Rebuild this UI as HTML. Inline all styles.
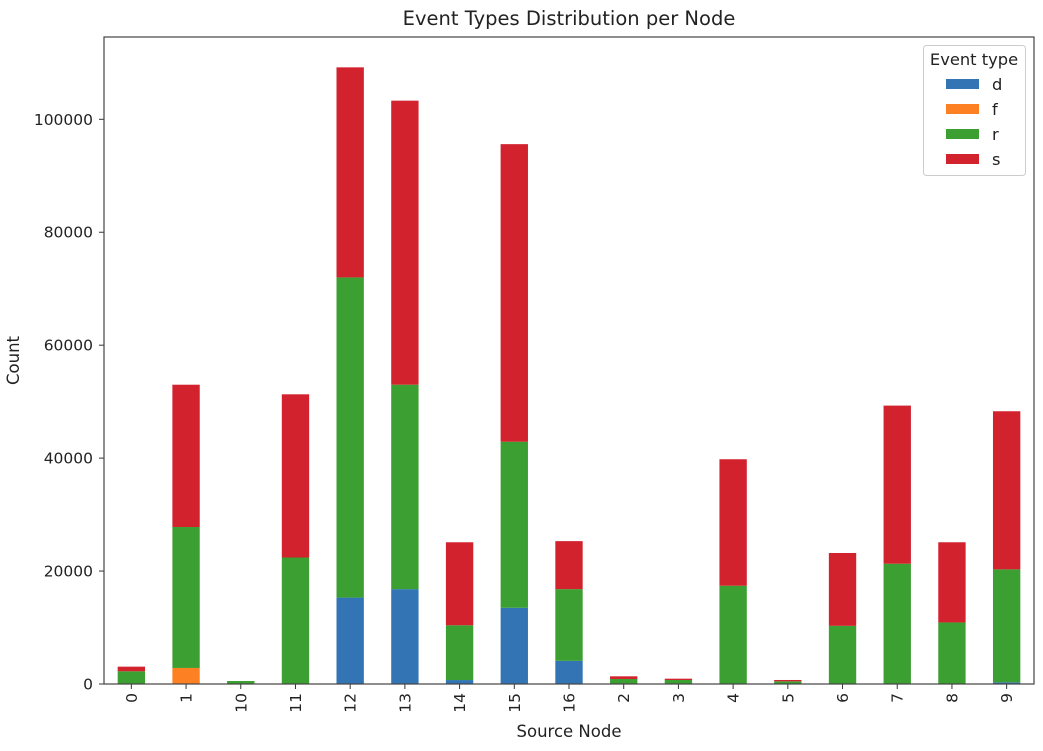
<!DOCTYPE html>
<html><head><meta charset="utf-8"><style>
body{margin:0;background:#fff;font-family:"DejaVu Sans","Liberation Sans",sans-serif;}
svg text{font-family:"DejaVu Sans","Liberation Sans",sans-serif;fill:#222;}
</style></head><body>
<svg id="chart" width="1043" height="747" xmlns="http://www.w3.org/2000/svg"></svg>
<script>
const categories=["0","1","10","11","12","13","14","15","16","2","3","4","5","6","7","8","9"];
const seriesNames=["d","f","r","s"];
const colors=["#3274b4","#fd8123","#3b9f32","#d1222e"];
const dVals=[0,0,0,0,15300,16800,700,13500,4100,0,0,0,0,0,0,0,300];
const fVals=[0,2840,0,0,0,0,0,0,0,0,0,0,0,0,0,0,0];
const rVals=[2250,24960,530,22400,56700,36200,9700,29400,12700,890,710,17400,480,10300,21300,10900,20000];
const sVals=[820,25200,0,28900,37200,50300,14700,52700,8500,470,230,22400,230,12900,28000,14200,28000];
const yTicks=[0,20000,40000,60000,80000,100000];
const series=[dVals,fVals,rVals,sVals];
const L=104,R=1034,T=37,B=684;
const yPerUnit=(684-119.3)/100000;
const y=v=>B-v*yPerUnit;
const step=(R-L)/categories.length;
const x=i=>L+step*(i+0.5);
const bw=step*0.5;
const NS="http://www.w3.org/2000/svg";
const svg=document.getElementById('chart');
function mk(t,a,txt){const e=document.createElementNS(NS,t);for(const k in a)e.setAttribute(k,a[k]);if(txt!==undefined)e.textContent=txt;svg.appendChild(e);return e;}
categories.forEach((c,i)=>{let base=0;
 series.forEach((s,j)=>{const v=s[i];if(v>0){
  const r=mk('rect',{x:x(i)-bw/2,y:y(base+v),width:bw,height:y(base)-y(base+v),fill:colors[j]});
  
  }
  base+=v;});
 const tk=mk('line',{x1:x(i),x2:x(i),y1:B,y2:B+5,stroke:'#333'});
 
 
 const tl=mk('text',{x:0,y:0,'font-size':15.5,'text-anchor':'end',transform:`translate(${x(i)+5.5},${B+9}) rotate(-90)`},c);
 
 
});
yTicks.forEach(v=>{
 const tk=mk('line',{x1:L-5,x2:L,y1:y(v),y2:y(v),stroke:'#333'});
 
 
 const tl=mk('text',{x:L-11,y:y(v)+5.5,'font-size':15.5,'text-anchor':'end'},String(v));
 
 
});
const fr=mk('rect',{x:L,y:T,width:R-L,height:B-T,fill:'none',stroke:'#444','stroke-width':1.2});


const ti=mk('text',{x:(L+R)/2,y:25,'font-size':19.5,'text-anchor':'middle'},'Event Types Distribution per Node');


const xt=mk('text',{x:(L+R)/2,y:737,'font-size':16.5,'text-anchor':'middle'},'Source Node');


const yt=mk('text',{x:0,y:0,'font-size':16.5,'text-anchor':'middle',transform:`translate(19,${(T+B)/2}) rotate(-90)`},'Count');


const lg=mk('rect',{x:923.5,y:45.5,width:102,height:130,rx:3,fill:'#fff',stroke:'#ccc'});


const lt=mk('text',{x:974,y:65,'font-size':16.3,'text-anchor':'middle'},'Event type');


seriesNames.forEach((n,j)=>{const yy=84+j*25;
 const sw=mk('rect',{x:946,y:yy-5,width:33,height:10,fill:colors[j]});
 
 
 const t=mk('text',{x:992,y:yy+6,'font-size':16.3},n);
 
 
});
</script>
</body></html>
